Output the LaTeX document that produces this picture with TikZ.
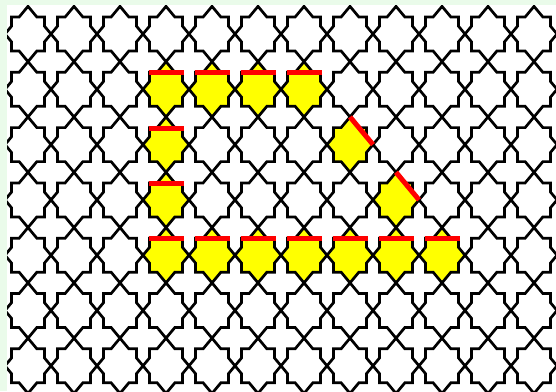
\documentclass[tikz,border=0pt]{standalone}
\definecolor{bgmint}{RGB}{234,251,234}
\definecolor{hlyellow}{RGB}{255,255,0}
\definecolor{hlred}{RGB}{255,0,0}
\tikzset{
  starshape/.pic={\path[pic actions] (0,-27.65) -- (8.86,-17) -- (16.5,-17) -- (16.5,-7.81) -- (23,0) -- (16.5,7.81) -- (16.5,17) -- (8.86,17) -- (0,27.65) -- (-8.86,17) -- (-16.5,17) -- (-16.5,7.81) -- (-23,0) -- (-16.5,-7.81) -- (-16.5,-17) -- (-8.86,-17) -- cycle;},
  starline/.style={draw=black, line width=2.7pt, line join=miter},
  hilite/.style={fill=hlyellow},
  redmark/.style={draw=hlred, line width=5pt},
}
\begin{document}
\begin{tikzpicture}[x=1pt,y=-1pt]
\fill[bgmint] (0,0) rectangle (556,391);
\useasboundingbox (0,0) rectangle (556,391);
\fill[white] (7,5) rectangle (556,391);
\begin{scope}
\clip (7,5) rectangle (556,391);
\foreach \i/\j in {3/1,4/1,5/1,6/1,3/2,7/2,3/3,8/3,3/4,4/4,5/4,6/4,7/4,8/4,9/4}
  \pic[hilite] at ({28+46*\i},{34+55.3*\j}) {starshape};
\foreach \i in {0,...,11}
  \foreach \j in {0,...,6}
    \pic[starline] at ({28+46*\i},{34+55.3*\j}) {starshape};
\foreach \i/\j in {3/1,4/1,5/1,6/1,3/2,3/3,3/4,4/4,5/4,6/4,7/4,8/4,9/4}
  \draw[redmark] ({28+46*\i-17.5},{34+55.3*\j-16.5}) -- ({28+46*\i+17.5},{34+55.3*\j-16.5});
\foreach \i/\j in {7/2,8/3}
  \draw[redmark] ({28+46*\i},{34+55.3*\j-27.65}) -- ({28+46*\i+23},{34+55.3*\j});
\end{scope}
\end{tikzpicture}
\end{document}
